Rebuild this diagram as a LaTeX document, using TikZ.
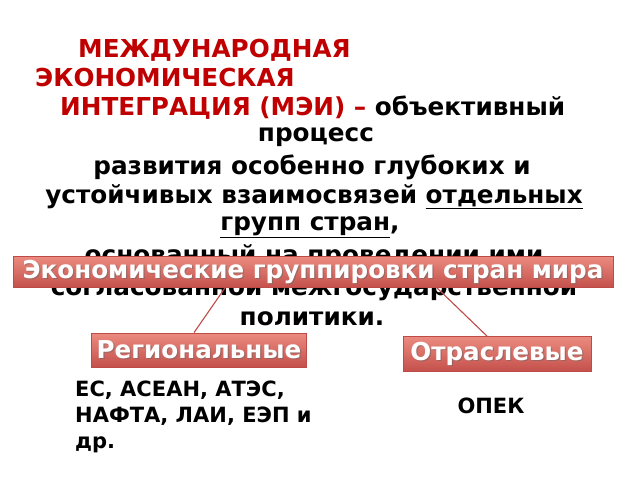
\documentclass[tikz,border=0pt]{standalone}
\usepackage{fontspec}
\setmainfont{DejaVu Sans}
\usetikzlibrary{calc}
\definecolor{titlered}{HTML}{C00000}
\definecolor{boxtop}{HTML}{EB8B80}
\definecolor{boxbot}{HTML}{C4504B}
\definecolor{boxedge}{HTML}{BE4B48}
\tikzset{
  body/.style={font=\bfseries\fontsize{24.7}{29}\selectfont, text=black, inner sep=0pt},
  redt/.style={font=\bfseries\fontsize{24.7}{29}\selectfont, text=titlered, inner sep=0pt},
  rbox/.style={draw=boxedge, line width=0.8pt, top color=boxtop, bottom color=boxbot,
     inner sep=0pt},
  lbl/.style={text=white, inner sep=0pt, font=\bfseries\fontsize{24.6}{29}\selectfont},
  shad/.style={text=black!60, opacity=0.5, inner sep=0pt, font=\bfseries\fontsize{24.6}{29}\selectfont},
  link/.style={draw=boxedge, line width=1.1pt},
  list/.style={font=\bfseries\fontsize{21}{26}\selectfont, text=black, inner sep=0pt, align=left}
}
\begin{document}
\begin{tikzpicture}[x=1pt,y=-1pt]
\useasboundingbox (0,0) rectangle (640,480);
\fill[white] (0,0) rectangle (640,480);
% definition text
\node[redt, anchor=west] (t1) at (78,50) {МЕЖДУНАРОДНАЯ};
\node[redt, anchor=west] (t2) at (35,78) {ЭКОНОМИЧЕСКАЯ};
\node[body, anchor=west] (t3) at (60,108) {\textcolor{titlered}{ИНТЕГРАЦИЯ (МЭИ) –} объективный};
\node[body] (t4) at (316,137) {процесс};
\node[body] (t5) at (312,167) {развития особенно глубоких и};
\node[body] (t6) at (314,197) {устойчивых взаимосвязей \underline{отдельных}};
\node[body] (t7) at (310,227) {\underline{групп стран},};
\node[body] (t8) at (314,257) {основанный на проведении ими};
\node[body] (t9) at (314,289) {согласованной межгосударственной};
\node[body] (t10) at (312,319) {политики.};
% boxes
\node[rbox, minimum width=600pt, minimum height=31pt] (top) at (313,272) {};
\node[rbox, minimum width=215pt, minimum height=34pt] (reg) at (199,350) {};
\node[rbox, minimum width=188pt, minimum height=35pt] (otr) at (497,354) {};
\coordinate (ls) at ($(top.south)+(-88,0)$);
\coordinate (rs) at ($(top.south)+(124,0)$);
\coordinate (le) at ($(reg.north)+(-5,0)$);
\coordinate (re) at ($(otr.north)+(-10,0)$);
\draw[link] (ls) -- (le);
\draw[link] (rs) -- (re);
% box texts with shadow
\node[shad] at ($(top)+(1.2,1.2)$) {Экономические группировки стран мира};
\node[lbl] (toplbl) at (top) {Экономические группировки стран мира};
\node[shad] at ($(reg)+(1.2,1.2)$) {Региональные};
\node[lbl] (reglbl) at (reg) {Региональные};
\node[shad] at ($(otr)+(1.2,1.2)$) {Отраслевые};
\node[lbl] (otrlbl) at (otr) {Отраслевые};
% lists
\node[list, anchor=north west] (lst) at (75,381) {ЕС, АСЕАН, АТЭС,\\НАФТА, ЛАИ, ЕЭП и\\др.};
\node[list] (opek) at (491,406) {ОПЕК};
\end{tikzpicture}
\end{document}
